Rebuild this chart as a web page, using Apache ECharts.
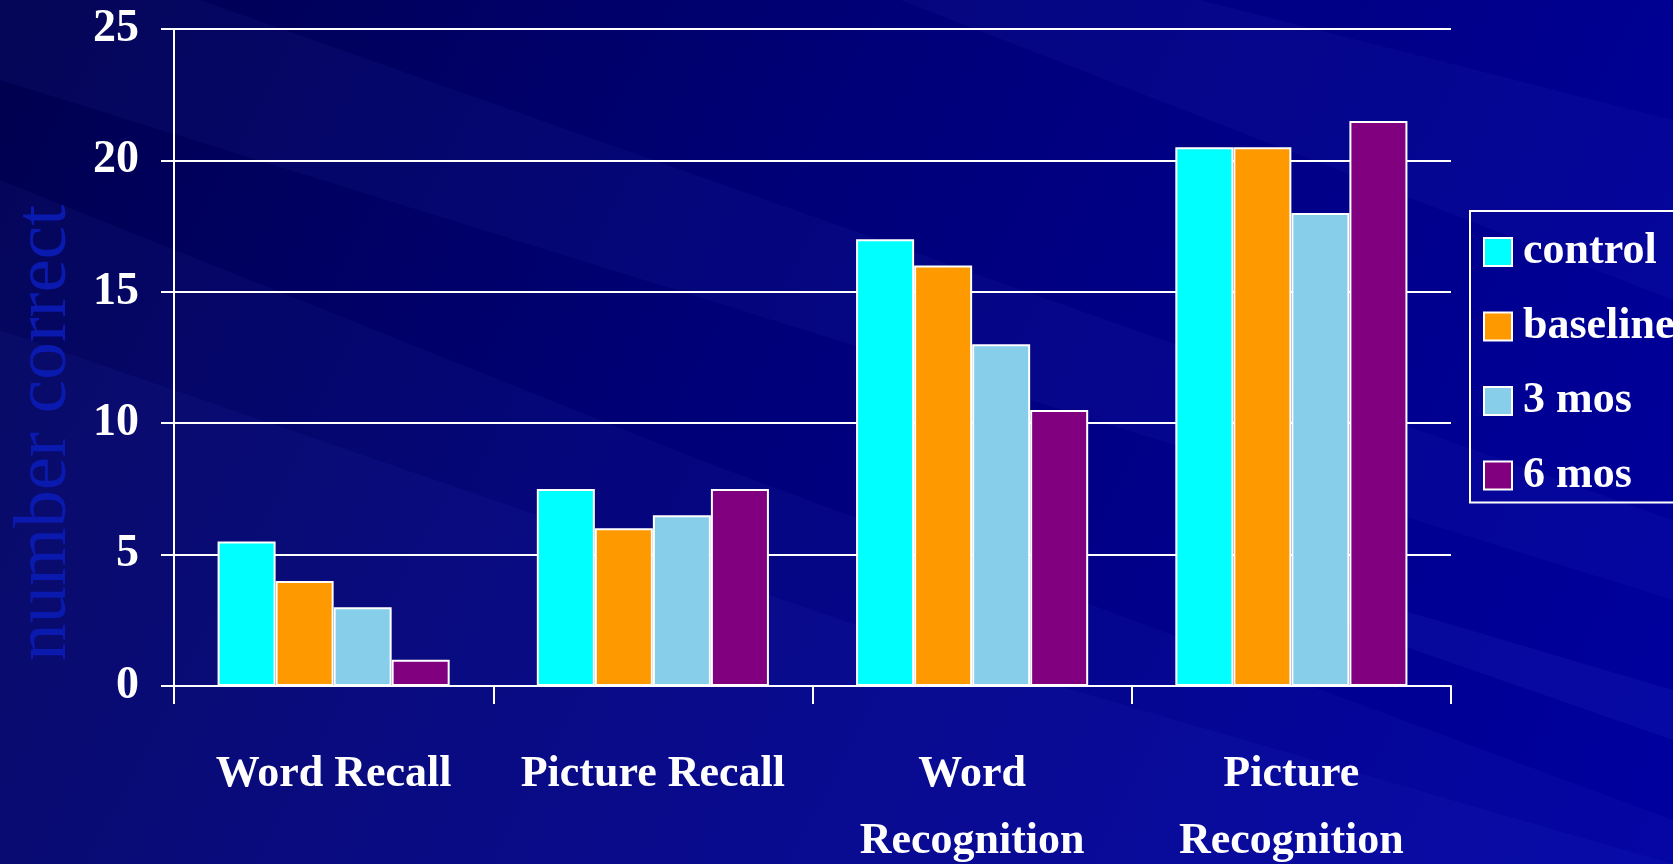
<!DOCTYPE html>
<html>
<head>
<meta charset="utf-8">
<script src="https://cdn.jsdelivr.net/npm/echarts@6/dist/echarts.min.js"></script>
<style>
html,body{margin:0;padding:0;width:1673px;height:864px;overflow:hidden;background:#000070;}
#chart{width:1673px;height:864px;}
</style>
</head>
<body>
<div id="chart"></div>
<script>
const categories = ['Word Recall', 'Picture Recall', 'Word\nRecognition', 'Picture\nRecognition'];
const seriesNames = ['control', 'baseline', '3 mos', '6 mos'];
const control = [5.5, 7.5, 17, 20.5];
const baseline = [4, 6, 16, 20.5];
const mos3 = [3, 6.5, 13, 18];
const mos6 = [1, 7.5, 10.5, 21.5];
const yTicks = [0, 5, 10, 15, 20, 25];
const colors = ['#00FFFF', '#FF9900', '#87CEEB', '#800080'];
const values = [control, baseline, mos3, mos6];

const chart = echarts.init(document.getElementById('chart'));
const font = '"Liberation Serif", "Times New Roman", serif';

const streaks = [
  [[0,180],[700,460],[1673,820],[1673,864],[0,864]],
  [[0,330],[900,640],[1673,864],[0,864]],
  [[200,0],[1673,520],[1673,600],[0,80],[0,0]],
  [[900,0],[1673,300],[1673,120],[1200,0]],
  [[1300,580],[1673,690],[1673,740],[1300,610]]
];
const streakOps = [0.05, 0.06, 0.05, 0.05, 0.08];

chart.setOption({
  backgroundColor: new echarts.graphic.LinearGradient(0, 0, 1, 1, [
    {offset: 0, color: '#00004E'},
    {offset: 0.45, color: '#00007A'},
    {offset: 1, color: '#0000A0'}
  ]),
  graphic: streaks.map((p, i) => ({
    type: 'polygon', z: -10, silent: true,
    shape: {points: p},
    style: {fill: 'rgba(90,110,255,' + streakOps[i] + ')'}
  })).concat([{
    type: 'text', left: 8, top: 205, rotation: Math.PI / 2, silent: true,
    style: {text: 'number correct', fill: '#0B1AAE', font: '75px ' + font}
  }]),
  legend: {
    orient: 'vertical',
    left: 1470, top: 211,
    data: seriesNames,
    itemWidth: 28, itemHeight: 28,
    itemGap: 30.5,
    padding: [19, 250, 5, 13],
    borderColor: '#FFFFFF', borderWidth: 2,
    textStyle: {color: '#FFFFFF', fontFamily: font, fontWeight: 'bold', fontSize: 44, padding: [0, 0, 0, 6]},
    icon: 'rect'
  },
  grid: {left: 174, right: 222, top: 29, bottom: 178, containLabel: false, outerBoundsMode: 'none'},
  xAxis: {
    type: 'category',
    data: categories,
    axisLine: {lineStyle: {color: '#FFFFFF', width: 2}},
    axisTick: {show: true, length: 18, lineStyle: {color: '#FFFFFF', width: 2}},
    axisLabel: {color: '#FFFFFF', fontFamily: font, fontWeight: 'bold', fontSize: 44, lineHeight: 67, margin: 55, interval: 0}
  },
  yAxis: {
    type: 'value',
    min: 0, max: 25, interval: 5,
    axisLine: {show: true, lineStyle: {color: '#FFFFFF', width: 2}},
    axisTick: {show: true, length: 13, lineStyle: {color: '#FFFFFF', width: 2}},
    splitLine: {show: true, lineStyle: {color: '#FFFFFF', width: 2}},
    axisLabel: {color: '#FFFFFF', fontFamily: font, fontWeight: 'bold', fontSize: 46, margin: 35,
      padding: [8, 0, 0, 0],
      formatter: v => yTicks.includes(v) ? String(v) : ''}
  },
  series: seriesNames.map((n, i) => ({
    name: n,
    type: 'bar',
    data: values[i],
    barGap: '0%',
    barCategoryGap: '27.3%',
    itemStyle: {color: colors[i], borderColor: '#FFFFFF', borderWidth: 2},
    emphasis: {disabled: true},
    animation: false
  })),
  animation: false
});
</script>
</body>
</html>
